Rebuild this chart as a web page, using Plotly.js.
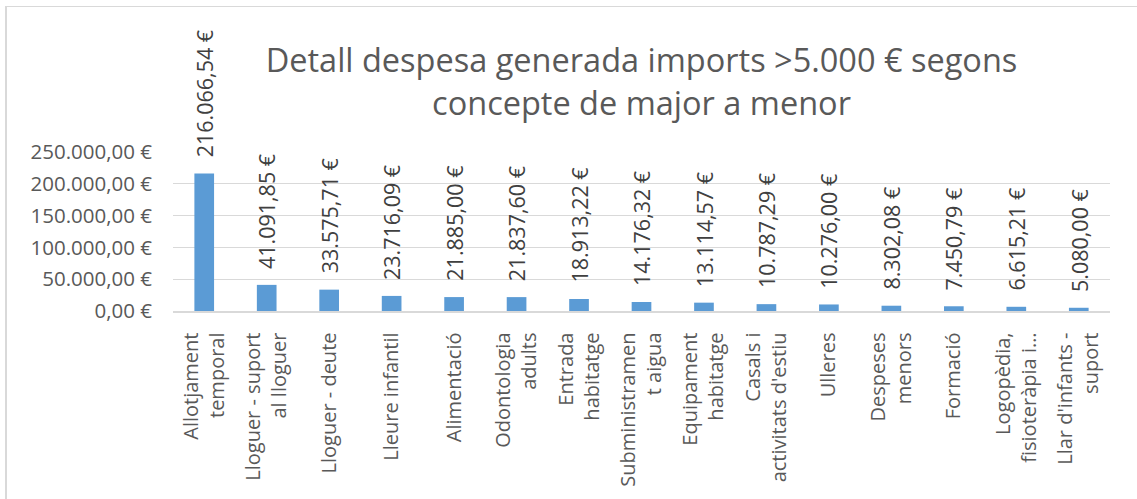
<!DOCTYPE html>
<html>
<head>
<meta charset="utf-8">
<script src="https://cdn.plot.ly/plotly-3.0.1.min.js"></script>
<style>
  html, body { margin: 0; padding: 0; background: #ffffff; }
  #wrap { position: relative; width: 1137px; height: 499px; overflow: hidden; }
  #chart { position: absolute; left: 0; top: 0; width: 1137px; height: 499px; }
  #frame { position: absolute; left: 5px; top: 6px; width: 1200px; height: 600px;
           border-left: 2px solid #d9d9d9; border-top: 1px solid #d9d9d9; pointer-events: none; }
</style>
</head>
<body>
<div id="wrap">
  <div id="chart"></div>
  <div id="frame"></div>
</div>
<script>
const categories = [
  "Allotjament<br>temporal",
  "Lloguer - suport<br>al lloguer",
  "Lloguer - deute",
  "Lleure infantil",
  "Alimentació",
  "Odontologia<br>adults",
  "Entrada<br>habitatge",
  "Subministramen<br>t aigua",
  "Equipament<br>habitatge",
  "Casals i<br>activitats d'estiu",
  "Ulleres",
  "Despeses<br>menors",
  "Formació",
  "Logopèdia,<br>fisioteràpia i…",
  "Llar d'infants -<br>suport"
];
const values = [216066.54, 41091.85, 33575.71, 23716.09, 21885.00, 21837.60, 18913.22, 14176.32, 13114.57, 10787.29, 10276.00, 8302.08, 7450.79, 6615.21, 5080.00];
const yTicks = [0, 50000, 100000, 150000, 200000, 250000];

function fmtEuro(v) {
  const parts = v.toFixed(2).split('.');
  const intPart = parts[0].replace(/\B(?=(\d{3})+(?!\d))/g, '.');
  return intPart + ',' + parts[1] + ' €';
}

const grey = '#595959';
const fontFam = '"Open Sans", sans-serif';

const trace = {
  type: 'bar',
  x: categories,
  y: values,
  marker: { color: '#5b9bd5' },
  hoverinfo: 'none'
};

const annotations = categories.map((c, i) => ({
  x: c,
  y: values[i],
  xref: 'x',
  yref: 'y',
  text: fmtEuro(values[i]),
  textangle: -90,
  showarrow: false,
  xanchor: 'center',
  yanchor: 'bottom',
  yshift: 14,
  font: { family: fontFam, size: 21.5, color: '#404040' }
}));

const layout = {
  width: 1137,
  height: 499,
  margin: { l: 173, r: 27, t: 152, b: 188 },
  paper_bgcolor: 'rgba(0,0,0,0)',
  plot_bgcolor: 'rgba(0,0,0,0)',
  showlegend: false,
  bargap: 0.685,
  font: { family: fontFam, color: grey },
  title: {
    text: 'Detall despesa generada imports >5.000 € segons<br>concepte de major a menor',
    font: { family: fontFam, size: 32.5, color: grey },
    xref: 'paper', x: 0.5, xanchor: 'center',
    yref: 'container', y: 0.855, yanchor: 'top'
  },
  xaxis: {
    type: 'category',
    tickangle: -90,
    tickfont: { family: fontFam, size: 20, color: grey },
    showgrid: false,
    showline: true,
    linecolor: '#d9d9d9',
    linewidth: 1.5,
    ticks: '',
    ticklabelstandoff: 12,
    fixedrange: true
  },
  yaxis: {
    range: [0, 250000],
    tickmode: 'array',
    tickvals: yTicks,
    ticktext: yTicks.map(fmtEuro),
    tickfont: { family: fontFam, size: 20.5, color: grey },
    showgrid: true,
    gridcolor: '#d9d9d9',
    gridwidth: 1.3,
    zeroline: false,
    showline: false,
    ticks: '',
    ticklabelstandoff: 20,
    fixedrange: true
  },
  annotations: annotations
};

Plotly.newPlot('chart', [trace], layout, { displayModeBar: false, staticPlot: true });
</script>
</body>
</html>
